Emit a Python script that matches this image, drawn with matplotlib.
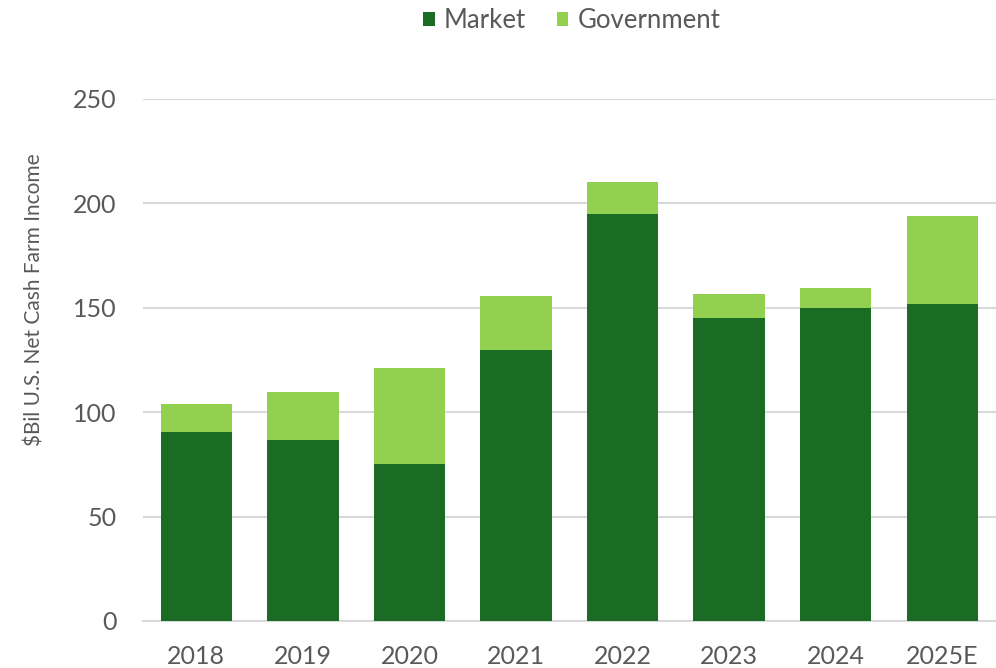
import matplotlib.pyplot as plt
import numpy as np

years = ["2018", "2019", "2020", "2021", "2022", "2023", "2024", "2025E"]
market = [90.5, 86.7, 75.2, 129.8, 194.9, 145.1, 149.9, 151.8]
government = [13.4, 23.0, 46.0, 25.9, 15.3, 11.5, 9.6, 42.2]

dark_green = "#1a6b24"
light_green = "#92d050"
text_grey = "#595959"

plt.rcParams["font.family"] = ["Lato", "DejaVu Sans"]

fig = plt.figure(figsize=(9.96, 6.68), dpi=100)
ax = fig.add_axes([0.1436, 0.0704, 0.856, 0.7814])

x = np.arange(len(years))
ax.bar(x, market, width=0.67, color=dark_green, label="Market", zorder=3)
ax.bar(x, government, width=0.67, bottom=market, color=light_green,
       label="Government", zorder=3)

ax.set_xlim(-0.5, len(years) - 0.5)
ax.set_ylim(0, 250)
ax.set_yticks([0, 50, 100, 150, 200, 250])
ax.set_xticks(x)
ax.set_xticklabels(years)
ax.yaxis.grid(True, color="#d9d9d9", linewidth=1.5, zorder=0)
for side in ["top", "right", "left"]:
    ax.spines[side].set_visible(False)
ax.spines["bottom"].set_color("#d9d9d9")
ax.spines["bottom"].set_linewidth(1.5)
ax.tick_params(axis="both", length=0, labelsize=18, labelcolor=text_grey)
ax.tick_params(axis="y", pad=19)
ax.tick_params(axis="x", pad=17)
ax.set_ylabel("$Bil U.S. Net Cash Farm Income", fontsize=15, color=text_grey)
ax.yaxis.set_label_coords(-0.115, 0.615)

fig.legend(loc="upper center", bbox_to_anchor=(0.574, 1.022), ncol=2,
           frameon=False, fontsize=18.5, labelcolor=text_grey,
           handlelength=0.45, handleheight=0.45, handletextpad=0.35,
           columnspacing=1.2)

fig.savefig("out.png", dpi=100)
